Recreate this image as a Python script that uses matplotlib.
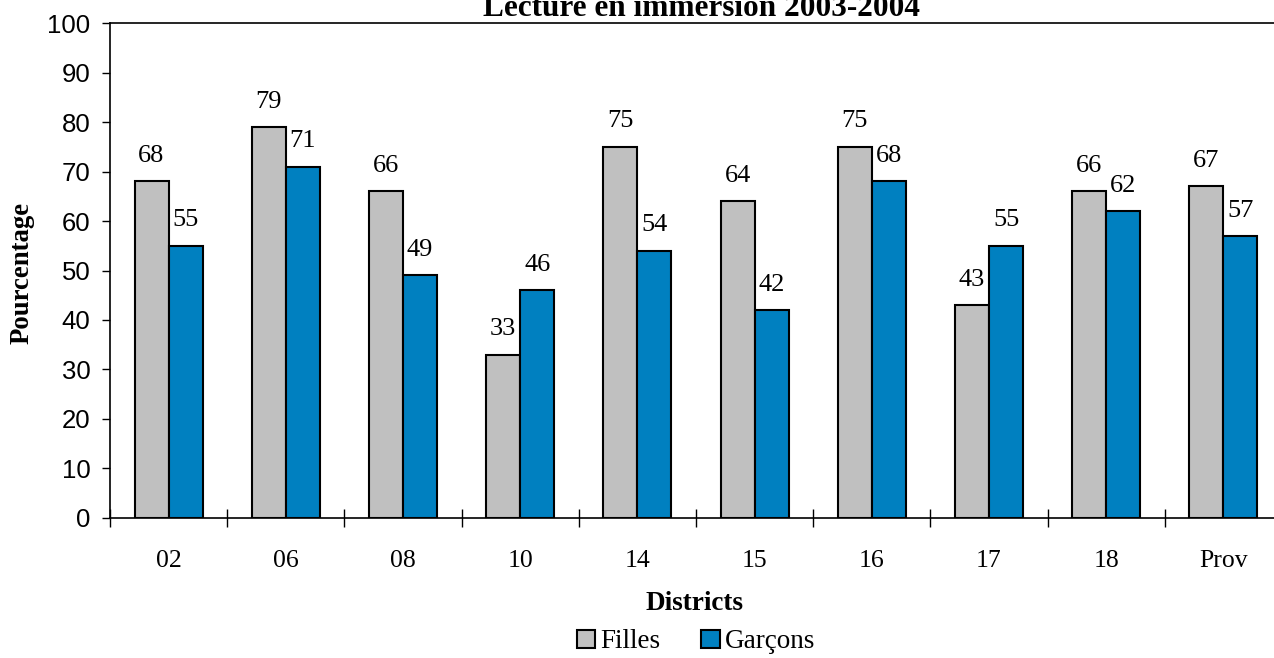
import matplotlib.pyplot as plt
import numpy as np

districts = ["02", "06", "08", "10", "14", "15", "16", "17", "18", "Prov"]
filles = [68, 79, 66, 33, 75, 64, 75, 43, 66, 67]
garcons = [55, 71, 49, 46, 54, 42, 68, 55, 62, 57]

serif = "Liberation Serif"
sans = "Liberation Sans"

fig = plt.figure(figsize=(12.74, 6.58), dpi=100)
ax = fig.add_axes([0.0863, 0.2128, 0.92, 0.7522])

x = np.arange(len(districts))
w = 0.29
b1 = ax.bar(x - w / 2, filles, w, color="#C0C0C0", edgecolor="black", linewidth=1.5, label="Filles")
b2 = ax.bar(x + w / 2, garcons, w, color="#0080C0", edgecolor="black", linewidth=1.5, label="Garçons")

for rect, v in zip(list(b1) + list(b2), filles + garcons):
    ax.text(rect.get_x() + rect.get_width() / 2, v + 3.9, str(v), ha="center", va="baseline",
            fontsize=19, family=serif)

ax.set_xlim(-0.5, len(districts) - 0.5)
ax.set_ylim(0, 100)
ax.set_yticks(range(0, 101, 10))
ax.tick_params(axis="y", labelsize=18.5, direction="out", length=6, width=1, pad=8)
for lab in ax.get_yticklabels():
    lab.set_family(sans)

ax.set_xticks(x)
ax.set_xticklabels(districts, family=serif, fontsize=18.5)
ax.set_xticks(np.arange(-0.5, len(districts) - 0.5, 1), minor=True)
ax.tick_params(axis="x", which="major", length=0, pad=23)
ax.tick_params(axis="x", which="minor", direction="inout", length=13, width=1)

ax.spines["right"].set_visible(False)
for s in ["left", "bottom", "top"]:
    ax.spines[s].set_linewidth(1.2)

ax.set_ylabel("Pourcentage", family=serif, fontsize=19.3, fontweight="bold")
ax.yaxis.set_label_coords(-0.0751, 0.495)
ax.yaxis.label.set_verticalalignment("center")
fig.text(695 / 1274, 1 - 604 / 658, "Districts", family=serif, fontsize=19.5, fontweight="bold",
         ha="center", va="center")
fig.text(702 / 1274, 1 - 16 / 658, "Lecture en immersion 2003-2004", family=serif, fontsize=22.5,
         fontweight="bold", ha="center", va="baseline")

fig.legend(handles=[b1, b2], labels=["Filles", "Garçons"], loc="center",
           bbox_to_anchor=(696 / 1274, 1 - 642 / 658), ncol=2, frameon=False, handlelength=0.68,
           handleheight=0.68, handletextpad=0.2, columnspacing=1.5, borderpad=0,
           prop={"family": serif, "size": 19.5})

fig.savefig("out.png", dpi=100)
